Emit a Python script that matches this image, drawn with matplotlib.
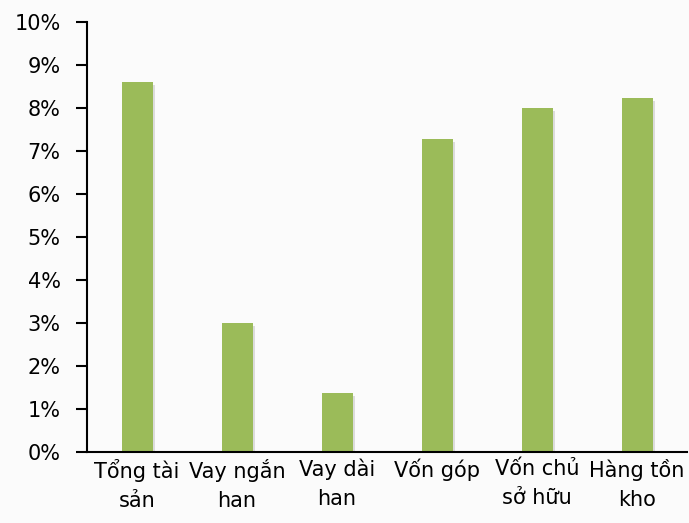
import matplotlib
matplotlib.use("Agg")
import matplotlib.pyplot as plt
import matplotlib.patheffects as pe
from matplotlib.ticker import FuncFormatter, MultipleLocator

categories = ["Tổng tài\nsản", "Vay ngắn\nhan", "Vay dài\nhan",
              "Vốn góp", "Vốn chủ\nsở hữu", "Hàng tồn\nkho"]
values = [8.6, 3.0, 1.37, 7.28, 8.0, 8.23]  # percent

bar_color = "#9BBB59"

fig = plt.figure(figsize=(6.89, 5.23), dpi=100, facecolor="#fbfbfb")
ax = fig.add_axes([87 / 689, 71 / 523, 600 / 689, 430 / 523])
ax.set_facecolor("#fbfbfb")

x = range(len(categories))
bars = ax.bar(x, values, width=0.31, color=bar_color, zorder=3)
for b in bars:
    b.set_path_effects([pe.SimplePatchShadow(offset=(2, -2), shadow_rgbFace="gray", alpha=0.25),
                        pe.Normal()])

ax.set_xlim(-0.5, len(categories) - 0.5)
ax.set_ylim(0, 10)
ax.yaxis.set_major_locator(MultipleLocator(1))
ax.yaxis.set_major_formatter(FuncFormatter(lambda v, p: f"{v:.0f}%"))

ax.set_xticks(list(x))
ax.set_xticklabels(categories, fontsize=15, linespacing=1.55)
ax.tick_params(axis="x", length=0, pad=5)
ax.tick_params(axis="y", length=8, width=1.5, labelsize=15, pad=11, direction="out")

for s in ["top", "right"]:
    ax.spines[s].set_visible(False)
ax.spines["left"].set_linewidth(1.5)
ax.spines["bottom"].set_linewidth(1.5)
ax.spines["bottom"].set_zorder(4)

fig.savefig("out.png", dpi=100, facecolor=fig.get_facecolor())
